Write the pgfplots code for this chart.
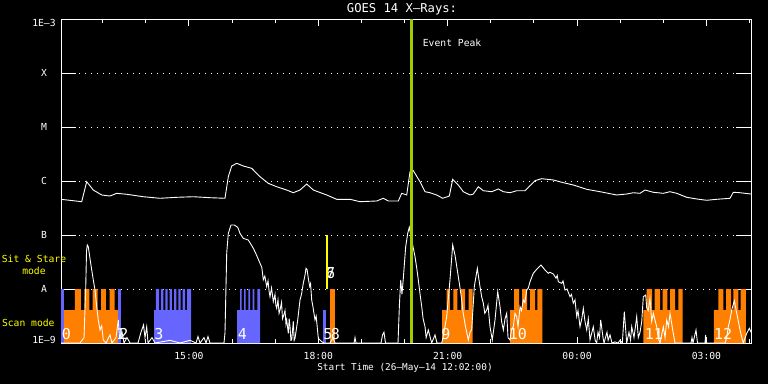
\documentclass[border=0pt]{standalone}
\usepackage{pgfplots}
\pgfplotsset{compat=1.18}
\usepackage{fontspec}
\setmainfont{DejaVu Sans Mono}
\definecolor{scanorange}{RGB}{255,128,0}
\definecolor{scanblue}{RGB}{102,102,255}
\definecolor{peakgreen}{RGB}{160,204,0}
\definecolor{sitsyellow}{RGB}{255,255,0}
\tikzset{blab/.style={text=white, anchor=base west, inner sep=0pt, font=\fontsize{15}{15}\selectfont}}
% x: hours after 26-May-14 12:00 ; y: log10 of flux (W/m^2): -9=1E-9, -8=A, ... -3=1E-3
\pgfplotstableread{
h L
0.033 -6.339
0.513 -6.383
0.629 -6.013
0.782 -6.167
0.977 -6.259
1.170 -6.278
1.325 -6.228
1.557 -6.246
1.942 -6.291
2.329 -6.320
2.716 -6.302
3.101 -6.291
3.488 -6.309
3.836 -6.320
3.913 -5.920
3.992 -5.722
4.108 -5.672
4.261 -5.722
4.455 -5.765
4.648 -5.920
4.840 -6.043
5.035 -6.106
5.267 -6.167
5.420 -6.217
5.575 -6.167
5.731 -6.056
5.884 -6.167
6.195 -6.259
6.426 -6.339
6.735 -6.339
6.967 -6.383
7.354 -6.370
7.507 -6.320
7.623 -6.370
7.855 -6.370
7.934 -6.228
8.050 -6.259
8.126 -5.828
8.203 -5.809
8.358 -6.013
8.474 -6.198
8.590 -6.217
8.745 -6.259
8.884 -6.320
9.038 -6.278
9.116 -5.969
9.246 -6.074
9.362 -6.198
9.518 -6.259
9.594 -6.241
9.710 -6.106
9.826 -6.180
10.021 -6.198
10.174 -6.148
10.290 -6.198
10.445 -6.217
10.600 -6.180
10.793 -6.180
11.025 -5.994
11.180 -5.957
11.449 -5.981
11.681 -6.031
11.913 -6.074
12.224 -6.154
12.532 -6.198
12.919 -6.259
13.151 -6.241
13.304 -6.217
13.460 -6.228
13.576 -6.167
13.768 -6.209
14.000 -6.228
14.155 -6.198
14.311 -6.228
14.542 -6.302
14.774 -6.333
15.006 -6.357
15.238 -6.339
15.546 -6.320
15.623 -6.209
15.779 -6.217
16.033 -6.241
}\longchan
\pgfplotstableread{
h L
0.033 -9
0.474 -9
0.567 -8.9
0.606 -8.0
0.625 -7.3
0.643 -7.185
0.666 -7.217
0.722 -7.524
0.782 -7.833
0.822 -8.019
0.861 -8.328
0.898 -8.574
0.938 -8.759
0.977 -8.685
1.014 -8.944
1.077 -9
1.170 -8.85
1.216 -9
1.309 -8.9
1.362 -8.574
1.390 -8.9
1.448 -8.8
1.494 -9
1.564 -8.9
1.633 -9
1.819 -9
1.888 -8.8
1.947 -8.667
1.981 -8.9
2.021 -8.7
2.051 -9
2.144 -8.9
2.213 -9
2.561 -8.95
2.793 -9
3.025 -8.95
3.164 -9
3.210 -8.88
3.257 -9
3.349 -8.9
3.396 -9
3.442 -8.88
3.488 -9
3.813 -9
3.836 -8.81
3.876 -7.333
3.913 -6.969
3.975 -6.815
4.052 -6.815
4.131 -6.857
4.184 -6.969
4.261 -7.062
4.377 -7.093
4.493 -7.246
4.555 -7.35
4.648 -7.524
4.690 -7.60
4.724 -7.83
4.760 -7.76
4.803 -7.957
4.834 -7.85
4.860 -8.05
4.880 -8.142
4.915 -7.98
4.935 -8.10
4.956 -8.235
4.996 -8.10
5.015 -8.30
5.035 -8.358
5.065 -8.20
5.090 -8.45
5.112 -8.389
5.147 -8.25
5.170 -8.55
5.188 -8.512
5.228 -8.40
5.250 -8.65
5.267 -8.574
5.304 -8.821
5.325 -8.55
5.344 -8.7
5.365 -8.95
5.383 -8.944
5.420 -8.6
5.440 -8.95
5.460 -8.913
5.522 -8.574
5.575 -8.204
5.610 -8.10
5.630 -8.0
5.652 -7.895
5.690 -7.75
5.715 -7.617
5.740 -7.64
5.768 -7.802
5.800 -7.95
5.820 -7.90
5.847 -8.204
5.880 -8.35
5.923 -8.574
5.950 -8.50
6.000 -8.913
6.079 -8.975
6.132 -9
6.271 -9
6.341 -8.9
6.387 -9
6.828 -9
6.851 -8.9
6.874 -9
7.454 -9
7.489 -8.85
7.523 -8.8
7.558 -9
7.848 -9
7.880 -8.3
7.911 -7.833
7.940 -8.1
7.971 -7.802
8.026 -7.217
8.073 -6.969
8.110 -6.857
8.165 -7.093
8.242 -7.402
8.280 -7.60
8.319 -7.833
8.360 -8.10
8.398 -8.328
8.430 -8.55
8.474 -8.698
8.500 -8.90
8.550 -8.759
8.629 -9
8.706 -8.85
8.752 -9
8.861 -9
8.891 -8.9
8.977 -8.512
9.053 -7.833
9.116 -7.185
9.169 -7.37
9.246 -7.772
9.280 -7.95
9.325 -8.204
9.360 -8.45
9.402 -8.65
9.440 -8.8
9.478 -8.944
9.518 -8.8
9.557 -8.75
9.617 -7.957
9.687 -7.617
9.749 -7.957
9.790 -8.15
9.826 -8.265
9.860 -8.45
9.905 -8.389
9.935 -8.3
9.981 -8.698
10.034 -8.944
10.097 -8.574
10.160 -8.049
10.213 -8.328
10.250 -8.6
10.290 -8.759
10.330 -8.55
10.368 -8.45
10.399 -8.9
10.445 -8.944
10.480 -8.75
10.522 -8.698
10.560 -8.45
10.600 -8.512
10.631 -8.7
10.677 -8.328
10.710 -8.40
10.753 -8.204
10.790 -8.25
10.832 -8.019
10.870 -7.98
10.909 -7.865
10.985 -7.709
11.064 -7.635
11.164 -7.556
11.257 -7.648
11.333 -7.709
11.372 -7.69
11.449 -7.722
11.512 -7.8
11.540 -7.75
11.565 -7.865
11.644 -7.895
11.674 -7.85
11.720 -8.019
11.767 -8.0
11.836 -8.142
11.870 -8.10
11.913 -8.265
11.952 -8.2
11.992 -8.512
12.022 -8.4
12.068 -8.698
12.110 -8.55
12.145 -8.358
12.184 -8.6
12.224 -8.759
12.260 -8.55
12.300 -8.944
12.376 -8.7
12.420 -8.95
12.455 -9
12.485 -8.8
12.520 -8.9
12.548 -8.574
12.602 -8.9
12.625 -9
12.694 -8.8
12.720 -8.95
12.764 -8.85
12.810 -9
12.880 -8.98
12.949 -9
12.996 -8.95
13.050 -9
13.095 -8.42
13.151 -9
13.204 -8.8
13.240 -8.95
13.267 -8.698
13.320 -8.9
13.383 -8.512
13.420 -8.9
13.460 -8.8
13.500 -8.6
13.536 -8.142
13.592 -8.111
13.615 -8.35
13.650 -8.40
13.691 -8.173
13.730 -8.6
13.768 -8.45
13.846 -8.7
13.880 -8.9
13.923 -9
14.000 -8.7
14.040 -8.9
14.079 -8.574
14.120 -8.7
14.156 -8.45
14.218 -8.759
14.271 -9
14.642 -9
14.665 -8.9
14.688 -9
14.758 -8.76
14.793 -9
14.967 -9
14.979 -8.85
14.990 -9
15.431 -9
15.470 -8.9
15.507 -8.7
15.550 -8.55
15.586 -8.389
15.646 -8.216
15.702 -8.45
15.740 -8.6
15.779 -8.759
15.820 -8.9
15.855 -9
15.934 -8.82
15.994 -8.728
16.033 -8.8
}\shortchan
\begin{document}
\begin{tikzpicture}
\fill[black] (0,0) rectangle (768pt,384pt);
\useasboundingbox (0,0) rectangle (768pt,384pt);
\begin{axis}[
  at={(61pt,41pt)}, anchor=south west,
  scale only axis, width=690pt, height=324pt,
  xmin=0.0333, xmax=16.0333, ymin=-9, ymax=-3,
  axis line style={white, line width=1pt},
  xtick={3,6,9,12,15}, xticklabels={15:00,18:00,21:00,00:00,03:00},
  minor xtick={1,2,4,5,7,8,10,11,13,14,16},
  ytick={-9,-8,-7,-6,-5,-4,-3},
  yticklabels={,A,B,C,M,X,},
  tick style={white, line width=1pt},
  xtick style={/pgfplots/major tick length=6.5pt, /pgfplots/minor tick length=4pt},
  ytick style={/pgfplots/major tick length=15pt},
  tick align=inside,
  ymajorgrids,
  major grid style={white, line width=1pt, dash pattern=on 1pt off 5pt},
  xticklabel style={anchor=center, yshift=-12.5pt, text=white, font=\fontsize{9.7}{11}\selectfont},
  yticklabel style={anchor=center, xshift=-17pt, text=white, font=\fontsize{9.7}{11}\selectfont},
]
% scan-mode blocks (height -8.389 = base, -8 = full)
\addplot[draw=none, fill=scanblue] coordinates {(0.033,-9)(0.033,-8)(0.103,-8)(0.103,-9)};
\addplot[draw=none, fill=scanorange] coordinates {(0.103,-9)(0.103,-8.389)(0.355,-8.389)(0.355,-8)(0.497,-8)(0.497,-8.389)(0.574,-8.389)(0.574,-8)(0.690,-8)(0.690,-8.389)(0.764,-8.389)(0.764,-8)(0.880,-8)(0.880,-8.389)(0.966,-8.389)(0.966,-8)(1.072,-8)(1.072,-8.389)(1.160,-8.389)(1.160,-8)(1.276,-8)(1.276,-8.389)(1.362,-8.389)(1.362,-9)};
\addplot[draw=none, fill=scanblue] coordinates {(1.362,-9)(1.362,-8)(1.425,-8)(1.425,-9)};
\addplot[draw=none, fill=scanblue] coordinates {(2.190,-9)(2.190,-8.389)(2.236,-8.389)(2.236,-8)(2.306,-8)(2.306,-8.389)(2.352,-8.389)(2.352,-8)(2.406,-8)(2.406,-8.389)(2.452,-8.389)(2.452,-8)(2.508,-8)(2.508,-8.389)(2.554,-8.389)(2.554,-8)(2.607,-8)(2.607,-8.389)(2.654,-8.389)(2.654,-8)(2.707,-8)(2.707,-8.389)(2.753,-8.389)(2.753,-8)(2.809,-8)(2.809,-8.389)(2.855,-8.389)(2.855,-8)(2.909,-8)(2.909,-8.389)(2.955,-8.389)(2.955,-8)(3.048,-8)(3.048,-9)};
\addplot[draw=none, fill=scanblue] coordinates {(4.115,-9)(4.115,-8.389)(4.184,-8.389)(4.184,-8)(4.223,-8)(4.223,-8.389)(4.277,-8.389)(4.277,-8)(4.316,-8)(4.316,-8.389)(4.377,-8.389)(4.377,-8)(4.416,-8)(4.416,-8.389)(4.479,-8.389)(4.479,-8)(4.516,-8)(4.516,-8.389)(4.586,-8.389)(4.586,-8)(4.648,-8)(4.648,-9)};
\addplot[draw=none, fill=scanblue] coordinates {(6.102,-9)(6.102,-8.389)(6.171,-8.389)(6.171,-9)};
\addplot[draw=none, fill=scanorange] coordinates {(6.271,-9)(6.271,-8)(6.387,-8)(6.387,-9)};
\addplot[draw=none, fill=scanorange] coordinates {(8.868,-9)(8.868,-8.389)(8.977,-8.389)(8.977,-8)(9.053,-8)(9.053,-8.389)(9.130,-8.389)(9.130,-8)(9.223,-8)(9.223,-8.389)(9.309,-8.389)(9.309,-8)(9.402,-8)(9.402,-8.389)(9.487,-8.389)(9.487,-8)(9.580,-8)(9.580,-9)};
\addplot[draw=none, fill=scanorange] coordinates {(10.445,-9)(10.445,-8.389)(10.538,-8.389)(10.538,-8)(10.654,-8)(10.654,-8.389)(10.724,-8.389)(10.724,-8)(10.840,-8)(10.840,-8.389)(10.909,-8.389)(10.909,-8)(11.025,-8)(11.025,-8.389)(11.078,-8.389)(11.078,-8)(11.194,-8)(11.194,-9)};
\addplot[draw=none, fill=scanorange] coordinates {(13.536,-9)(13.536,-8.389)(13.615,-8.389)(13.615,-8)(13.738,-8)(13.738,-8.389)(13.800,-8.389)(13.800,-8)(13.923,-8)(13.923,-8.389)(13.986,-8.389)(13.986,-8)(14.093,-8)(14.093,-8.389)(14.156,-8.389)(14.156,-8)(14.271,-8)(14.271,-8.389)(14.348,-8.389)(14.348,-8)(14.450,-8)(14.450,-9)};
\addplot[draw=none, fill=scanorange] coordinates {(15.173,-9)(15.173,-8.389)(15.275,-8.389)(15.275,-8)(15.391,-8)(15.391,-8.389)(15.454,-8.389)(15.454,-8)(15.570,-8)(15.570,-8.389)(15.623,-8.389)(15.623,-8)(15.739,-8)(15.739,-8.389)(15.795,-8.389)(15.795,-8)(15.917,-8)(15.917,-9)};
% block numbers
\node[blab] at (axis cs:0.050,-8.93) {0};
\node[blab] at (axis cs:1.306,-8.93) {1};
\node[blab] at (axis cs:1.383,-8.93) {2};
\node[blab] at (axis cs:2.195,-8.93) {3};
\node[blab] at (axis cs:4.131,-8.93) {4};
\node[blab] at (axis cs:6.113,-8.93) {5};
\node[blab] at (axis cs:6.287,-8.93) {8};
\node[blab] at (axis cs:6.178,-7.80) {6};
\node[blab] at (axis cs:6.178,-7.80) {7};
\node[blab] at (axis cs:8.850,-8.93) {9};
\node[blab] at (axis cs:10.414,-8.93) {10};
\node[blab] at (axis cs:13.566,-8.93) {11};
\node[blab] at (axis cs:15.173,-8.93) {12};
% GOES X-ray channels
\addplot[white, line width=0.9pt] table[x=h, y=L] {\longchan};
\addplot[white, line width=0.9pt] table[x=h, y=L] {\shortchan};
% sit & stare and event peak
\addplot[sitsyellow, line width=2pt] coordinates {(6.202,-8)(6.202,-7)};
\addplot[peakgreen, line width=2.7pt] coordinates {(8.167,-9)(8.167,-3)};
\end{axis}
\begin{scope}[every node/.style={inner sep=0pt}]
\node[text=white, font=\fontsize{12.2}{14}\selectfont] at (402pt,374.5pt) {GOES 14 X–Rays:};
\node[text=white, font=\fontsize{9.4}{11}\selectfont] at (405pt,16pt) {Start Time (26–May–14 12:02:00)};
\node[text=white, anchor=west, font=\fontsize{9.7}{11}\selectfont] at (422.7pt,341.2pt) {Event Peak};
\node[text=sitsyellow, align=center, font=\fontsize{9.7}{12}\selectfont] at (34pt,119pt) {Sit \& Stare\\mode};
\node[text=sitsyellow, font=\fontsize{9.7}{11}\selectfont] at (28.3pt,61pt) {Scan mode};
\node[text=white, font=\fontsize{9.7}{11}\selectfont] at (44pt,44pt) {1E–9};
\node[text=white, font=\fontsize{9.7}{11}\selectfont] at (44pt,361.2pt) {1E–3};
\end{scope}
\end{tikzpicture}
\end{document}
